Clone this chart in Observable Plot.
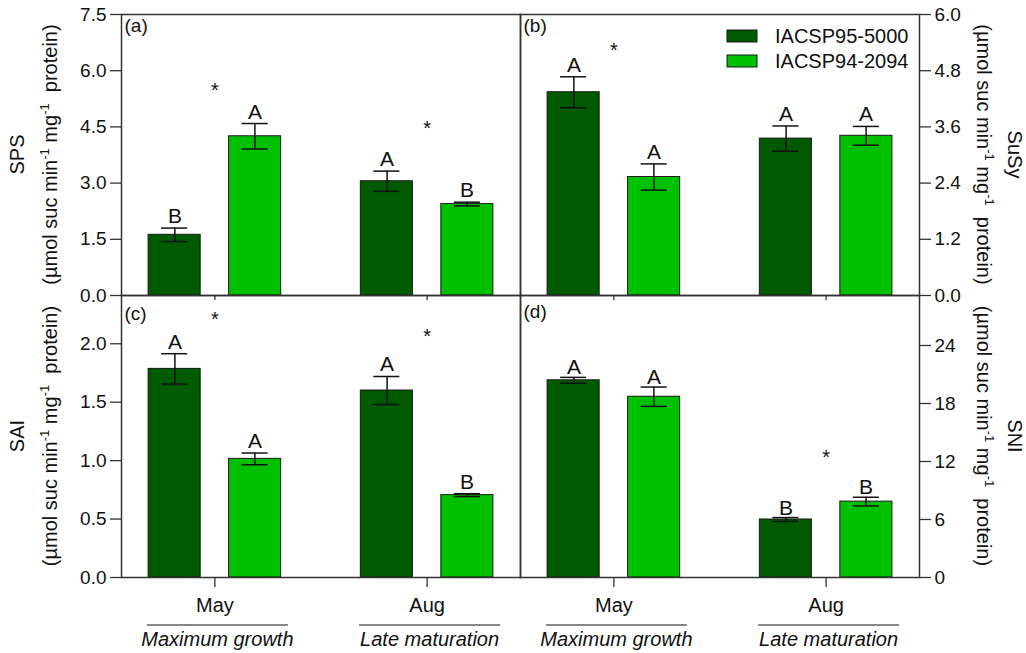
<!DOCTYPE html>
<html>
<head>
<meta charset="utf-8">
<script src="https://cdn.jsdelivr.net/npm/d3@7"></script>
<script src="https://cdn.jsdelivr.net/npm/@observablehq/plot@0.6"></script>
<style>
  body { margin: 0; background: #fff; }
  #fig { position: relative; width: 1026px; height: 653px; font-family: "Liberation Sans", Arial, sans-serif; }
  #fig svg { position: absolute; overflow: visible; }
</style>
</head>
<body>
<div id="fig"></div>
<script>
// Sampling months, phenological phases and cultivars
const months = ["May", "Aug"];
const phases = ["Maximum growth", "Late maturation"];
const cultivars = ["IACSP95-5000", "IACSP94-2094"];
const cultivarColors = ["#005a00", "#00c000"];

// SPS activity (µmol suc min-1 mg-1 protein): mean and standard error per month
const spsMean95 = [1.62, 3.05];
const spsMean94 = [4.25, 2.44];
const spsSE95 = [0.18, 0.27];
const spsSE94 = [0.34, 0.05];
const spsLetters95 = ["B", "A"];
const spsLetters94 = ["A", "B"];
const spsStars = [5.6, 4.6];

// SuSy activity
const susyMean95 = [4.34, 3.35];
const susyMean94 = [2.53, 3.41];
const susySE95 = [0.33, 0.27];
const susySE94 = [0.28, 0.20];
const susyLetters95 = ["A", "A"];
const susyLetters94 = ["A", "A"];
const susyStars = [5.34, null];

// SAI activity
const saiMean95 = [1.785, 1.60];
const saiMean94 = [1.015, 0.705];
const saiSE95 = [0.13, 0.12];
const saiSE94 = [0.05, 0.012];
const saiLetters95 = ["A", "A"];
const saiLetters94 = ["A", "B"];
const saiStars = [2.25, 2.10];

// SNI activity
const sniMean95 = [20.4, 6.0];
const sniMean94 = [18.7, 7.85];
const sniSE95 = [0.3, 0.2];
const sniSE94 = [1.0, 0.45];
const sniLetters95 = ["A", "B"];
const sniLetters94 = ["A", "B"];
const sniStars = [null, 12.9];

// Axis ticks
const spsTicks = [0, 1.5, 3.0, 4.5, 6.0, 7.5];
const susyTicks = [0, 1.2, 2.4, 3.6, 4.8, 6.0];
const saiTicks = [0, 0.5, 1.0, 1.5, 2.0];
const sniTicks = [0, 6, 12, 18, 24];

const fig = document.getElementById("fig");
const ink = "#111";
const lineInk = "#333";
const fontFamily = "Liberation Sans, Arial, sans-serif";

// Per-cultivar placement inside each month band
const barInsets = [[8, 88.5], [88.5, 8]];
const capInsets = [[21, 101.5], [101.5, 21]];
const barShift = [-40, 40];

function panel(cfg) {
  const means = [cfg.mean95, cfg.mean94];
  const ses = [cfg.se95, cfg.se94];
  const letters = [cfg.letters95, cfg.letters94];
  const rows = [];
  cultivars.forEach((c, j) => months.forEach((m, i) => rows.push({
    month: m, cultivar: c, j, mean: means[j][i], se: ses[j][i], letter: letters[j][i]
  })));
  const starRows = months.map((m, i) => ({month: m, level: cfg.stars[i]})).filter(d => d.level != null);

  const marks = [];
  cultivars.forEach((c, j) => {
    const sub = rows.filter(d => d.j === j);
    marks.push(Plot.barY(sub, {x: "month", y: "mean", fill: "cultivar", stroke: "#1a1a1a", strokeWidth: 1,
      insetLeft: barInsets[j][0], insetRight: barInsets[j][1]}));
    marks.push(Plot.ruleX(sub, {x: "month", y1: d => d.mean - d.se, y2: d => d.mean + d.se, dx: barShift[j],
      stroke: ink, strokeWidth: 1.5}));
    marks.push(Plot.tickY(sub, {x: "month", y: d => d.mean + d.se, stroke: ink, strokeWidth: 1.5,
      insetLeft: capInsets[j][0], insetRight: capInsets[j][1]}));
    marks.push(Plot.tickY(sub, {x: "month", y: d => d.mean - d.se, stroke: ink, strokeWidth: 1.5,
      insetLeft: capInsets[j][0], insetRight: capInsets[j][1]}));
    marks.push(Plot.text(sub, {x: "month", y: d => d.mean + d.se, text: "letter", dx: barShift[j], dy: cfg.letterDy,
      lineAnchor: "bottom", fontSize: 21, fill: ink}));
  });
  marks.push(Plot.text(starRows, {x: "month", y: "level", text: () => "*", fontSize: 20, dy: 5, fill: ink}));
  marks.push(Plot.text([cfg.tag], {frameAnchor: "top-left", text: d => d, dx: 3, dy: cfg.tagDy,
    lineAnchor: "top", textAnchor: "start", fontSize: 19, fill: ink}));
  marks.push(Plot.axisY(cfg.yTicks, {anchor: cfg.yAnchor, tickFormat: cfg.yFormat, tickSize: 11, tickPadding: 4,
    fontSize: 19, label: null, stroke: lineInk, strokeWidth: 1.3, fill: ink}));
  if (cfg.bottom) {
    marks.push(Plot.axisX({tickSize: 10, tickPadding: 10, fontSize: 20, label: null, stroke: lineInk,
      strokeWidth: 1.3, fill: ink}));
  } else {
    marks.push(Plot.axisX({tickSize: 5, tickFormat: () => "", label: null, stroke: lineInk, strokeWidth: 1.3}));
  }
  marks.push(Plot.frame({stroke: lineInk, strokeWidth: 1.5}));

  const svg = Plot.plot({
    width: cfg.width, height: cfg.height,
    marginLeft: cfg.mL, marginRight: cfg.mR, marginTop: cfg.mT, marginBottom: cfg.mB,
    x: {domain: months, paddingInner: 0.3, paddingOuter: 0.09, round: false},
    y: {domain: cfg.yDomain},
    color: {domain: cultivars, range: cultivarColors},
    style: {background: "transparent", fontFamily, fontSize: "19px", color: ink, overflow: "visible"},
    marks
  });
  svg.style.left = cfg.left + "px";
  svg.style.top = cfg.top + "px";
  fig.appendChild(svg);

  const g = d3.select(svg).append("g").attr("font-family", fontFamily).attr("fill", ink);
  const frameMid = cfg.mT + (cfg.height - cfg.mT - cfg.mB) / 2;
  const rot = cfg.yAnchor === "left" ? -90 : 90;

  // Two-line axis title: enzyme name and unit with superscripts
  g.append("text")
    .attr("transform", `translate(${cfg.nameX},${frameMid}) rotate(${rot})`)
    .attr("text-anchor", "middle").attr("font-size", 20).text(cfg.name);
  const unit = g.append("text")
    .attr("transform", `translate(${cfg.unitX},${frameMid}) rotate(${rot})`)
    .attr("text-anchor", "middle").attr("font-size", 20).style("white-space", "pre");
  unit.append("tspan").text("(µmol suc min");
  unit.append("tspan").attr("font-size", 13).attr("dy", -8).text("-1");
  unit.append("tspan").attr("dy", 8).text(" mg");
  unit.append("tspan").attr("font-size", 13).attr("dy", -8).text("-1");
  unit.append("tspan").attr("dy", 8).text("  protein)");

  // Phase labels with a rule above, under each month
  if (cfg.bottom) {
    const xs = bandCenter(svg);
    months.forEach((m, i) => {
      const cx = xs(m) + 3;
      g.append("line").attr("x1", cx - 70.5).attr("x2", cx + 70.5)
        .attr("y1", cfg.height - 28).attr("y2", cfg.height - 28)
        .attr("stroke", ink).attr("stroke-width", 1.2);
      g.append("text").attr("x", cx).attr("y", cfg.height - 7)
        .attr("text-anchor", "middle").attr("font-size", 20).attr("font-style", "italic")
        .text(phases[i]);
    });
  }
  return svg;
}

// Center of a month band in the plot's x scale
function bandCenter(svg) {
  const s = svg.scale("x");
  return m => s.apply(m) + (s.bandwidth || 0) / 2;
}

const fmt1 = d => d.toFixed(1);

panel({left: 0, top: 0, width: 520, height: 300, mL: 121, mR: 0, mT: 14, mB: 5,
  yDomain: [0, 7.5], yTicks: spsTicks, yFormat: fmt1, yAnchor: "left",
  mean95: spsMean95, mean94: spsMean94, se95: spsSE95, se94: spsSE94,
  letters95: spsLetters95, letters94: spsLetters94, stars: spsStars,
  tag: "(a)", tagDy: 4, letterDy: -5, name: "SPS", nameX: 24, unitX: 57, bottom: false});

const pb = panel({left: 520, top: 0, width: 506, height: 300, mL: 0, mR: 107, mT: 14, mB: 5,
  yDomain: [0, 6], yTicks: susyTicks, yFormat: fmt1, yAnchor: "right",
  mean95: susyMean95, mean94: susyMean94, se95: susySE95, se94: susySE94,
  letters95: susyLetters95, letters94: susyLetters94, stars: susyStars,
  tag: "(b)", tagDy: 4, letterDy: -5, name: "SuSy", nameX: 488, unitX: 457, bottom: false});

panel({left: 0, top: 290, width: 520, height: 363, mL: 121, mR: 0, mT: 5, mB: 76,
  yDomain: [0, 2.413], yTicks: saiTicks, yFormat: fmt1, yAnchor: "left",
  mean95: saiMean95, mean94: saiMean94, se95: saiSE95, se94: saiSE94,
  letters95: saiLetters95, letters94: saiLetters94, stars: saiStars,
  tag: "(c)", tagDy: 11, letterDy: -5, name: "SAI", nameX: 24, unitX: 57, bottom: true});

panel({left: 520, top: 290, width: 506, height: 363, mL: 0, mR: 107, mT: 5, mB: 76,
  yDomain: [0, 29.17], yTicks: sniTicks, yFormat: d => String(d), yAnchor: "right",
  mean95: sniMean95, mean94: sniMean94, se95: sniSE95, se94: sniSE94,
  letters95: sniLetters95, letters94: sniLetters94, stars: sniStars,
  tag: "(d)", tagDy: 9, letterDy: -3, name: "SNI", nameX: 488, unitX: 457, bottom: true});

// Legend inside panel (b), colored from the plot's own color scale
const color = pb.scale("color");
const lg = d3.select(pb).append("g").attr("font-family", fontFamily).attr("text-anchor", "start");
cultivars.forEach((c, i) => {
  lg.append("rect").attr("x", 207).attr("y", 30 + i * 25).attr("width", 30).attr("height", 12)
    .attr("fill", color.apply(c)).attr("stroke", "#1a1a1a").attr("stroke-width", 1);
  lg.append("text").attr("x", 255).attr("y", 43 + i * 25).attr("font-size", 20).attr("fill", ink)
    .attr("text-anchor", "start").text(c);
});
</script>
</body>
</html>
